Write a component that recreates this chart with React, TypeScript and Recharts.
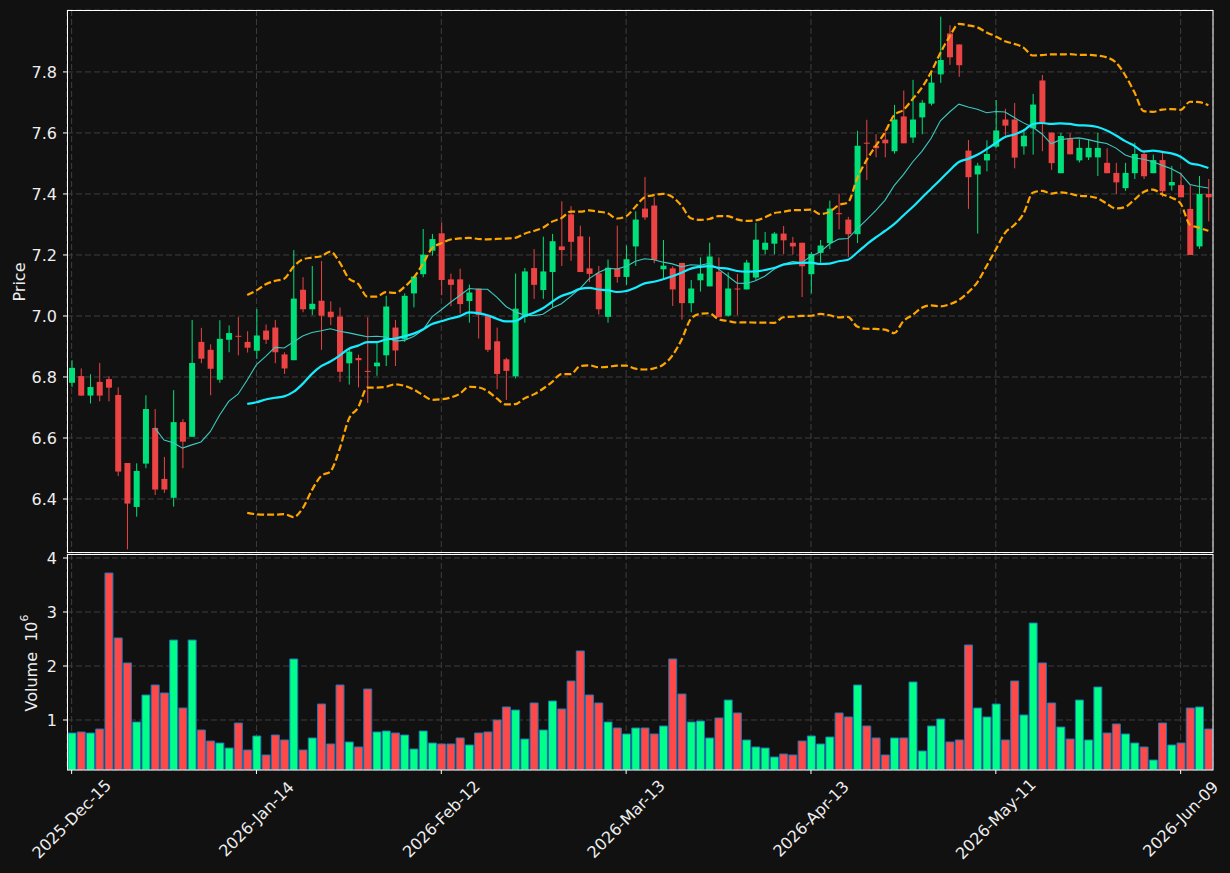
import React from 'react';
import { ComposedChart, Bar, Line, XAxis, YAxis, CartesianGrid, Cell } from 'recharts';

const dates = [
  '2025-12-15','2025-12-16','2025-12-17','2025-12-18','2025-12-19','2025-12-22','2025-12-23','2025-12-24','2025-12-26','2025-12-29','2025-12-30','2025-12-31',
  '2026-01-02','2026-01-05','2026-01-06','2026-01-07','2026-01-08','2026-01-09','2026-01-12','2026-01-13','2026-01-14','2026-01-15','2026-01-16','2026-01-20','2026-01-21','2026-01-22','2026-01-23','2026-01-26','2026-01-27','2026-01-28','2026-01-29','2026-01-30',
  '2026-02-02','2026-02-03','2026-02-04','2026-02-05','2026-02-06','2026-02-09','2026-02-10','2026-02-11','2026-02-12','2026-02-13','2026-02-17','2026-02-18','2026-02-19','2026-02-20','2026-02-23','2026-02-24','2026-02-25','2026-02-26','2026-02-27',
  '2026-03-02','2026-03-03','2026-03-04','2026-03-05','2026-03-06','2026-03-09','2026-03-10','2026-03-11','2026-03-12','2026-03-13','2026-03-16','2026-03-17','2026-03-18','2026-03-19','2026-03-20','2026-03-23','2026-03-24','2026-03-25','2026-03-26','2026-03-27','2026-03-30','2026-03-31',
  '2026-04-01','2026-04-02','2026-04-06','2026-04-07','2026-04-08','2026-04-09','2026-04-10','2026-04-13','2026-04-14','2026-04-15','2026-04-16','2026-04-17','2026-04-20','2026-04-21','2026-04-22','2026-04-23','2026-04-24','2026-04-27','2026-04-28','2026-04-29','2026-04-30',
  '2026-05-01','2026-05-04','2026-05-05','2026-05-06','2026-05-07','2026-05-08','2026-05-11','2026-05-12','2026-05-13','2026-05-14','2026-05-15','2026-05-18','2026-05-19','2026-05-20','2026-05-21','2026-05-22','2026-05-26','2026-05-27','2026-05-28','2026-05-29',
  '2026-06-01','2026-06-02','2026-06-03','2026-06-04','2026-06-05','2026-06-08','2026-06-09','2026-06-10','2026-06-11','2026-06-12',
];

const opens = [6.781,6.803,6.739,6.784,6.793,6.741,6.518,6.374,6.516,6.633,
6.466,6.404,6.652,6.604,6.915,6.889,6.791,6.922,6.935,6.915,
6.886,6.952,6.962,6.874,6.855,7.086,7.022,7.050,7.014,6.998,
6.845,6.862,6.820,6.835,6.871,6.962,6.923,7.074,7.137,7.214,
7.271,7.120,7.120,7.049,7.090,7.003,6.917,6.858,6.802,6.997,
7.157,7.085,7.144,7.228,7.333,7.261,7.156,7.140,6.997,7.156,
7.128,7.228,7.352,7.362,7.153,7.156,7.174,7.042,7.117,7.097,
7.145,7.001,7.090,7.087,7.126,7.217,7.237,7.270,7.240,7.240,
7.137,7.207,7.239,7.337,7.316,7.268,7.568,7.558,7.578,7.540,
7.654,7.585,7.651,7.696,7.792,7.926,7.890,7.542,7.464,7.510,
7.555,7.644,7.644,7.556,7.615,7.772,7.601,7.468,7.581,7.510,
7.520,7.520,7.502,7.469,7.419,7.468,7.531,7.468,7.511,7.428,
7.429,7.351,7.228,7.400];

const highs = [6.855,6.828,6.809,6.846,6.802,6.766,6.518,6.517,6.740,6.695,
6.538,6.757,6.662,6.987,6.961,6.907,6.986,6.969,6.997,6.950,
7.023,6.972,6.987,6.881,7.216,7.127,7.164,7.180,7.048,7.028,
6.892,6.873,6.996,6.914,7.066,6.987,7.074,7.129,7.285,7.269,
7.306,7.139,7.155,7.103,7.090,7.003,6.962,6.863,7.139,7.157,
7.219,7.260,7.269,7.376,7.360,7.296,7.260,7.164,7.185,7.296,
7.231,7.343,7.456,7.389,7.249,7.163,7.174,7.118,7.192,7.240,
7.192,7.143,7.138,7.184,7.305,7.275,7.275,7.295,7.259,7.240,
7.210,7.249,7.378,7.401,7.325,7.607,7.643,7.596,7.612,7.692,
7.739,7.774,7.708,7.799,7.981,7.953,7.890,7.577,7.502,7.576,
7.708,7.679,7.698,7.613,7.728,7.790,7.601,7.600,7.599,7.579,
7.579,7.600,7.550,7.502,7.502,7.568,7.544,7.529,7.540,7.492,
7.468,7.429,7.459,7.449];

const lows = [6.767,6.738,6.713,6.720,6.720,6.475,6.235,6.342,6.501,6.413,
6.420,6.375,6.501,6.604,6.845,6.740,6.781,6.881,6.871,6.880,
6.859,6.908,6.845,6.810,6.855,7.012,7.003,6.889,6.970,6.784,
6.775,6.766,6.715,6.804,6.836,6.836,6.915,7.028,7.127,7.198,
7.068,7.032,7.008,6.978,6.926,6.882,6.760,6.725,6.795,6.978,
7.056,7.056,7.028,7.164,7.181,7.144,7.111,7.005,6.978,7.109,
7.102,7.164,7.315,7.173,7.123,7.033,6.988,7.012,7.080,7.097,
6.996,6.998,7.003,7.087,7.118,7.202,7.202,7.203,7.201,7.062,
7.074,7.174,7.219,7.284,7.193,7.239,7.446,7.520,7.520,7.532,
7.566,7.567,7.596,7.690,7.764,7.823,7.784,7.351,7.270,7.474,
7.551,7.591,7.484,7.529,7.529,7.540,7.479,7.468,7.530,7.503,
7.511,7.459,7.468,7.400,7.410,7.449,7.449,7.468,7.390,7.411,
7.389,7.200,7.220,7.310];

const closes = [6.830,6.739,6.767,6.739,6.765,6.490,6.385,6.492,6.695,6.431,
6.431,6.652,6.588,6.846,6.860,6.827,6.925,6.944,6.932,6.896,
6.936,6.922,6.881,6.828,7.057,7.022,7.040,7.001,6.996,6.817,
6.883,6.855,6.818,6.847,7.031,6.887,7.066,7.129,7.201,7.252,
7.118,7.102,7.039,7.077,7.003,6.889,6.810,6.820,7.024,7.146,
7.102,7.146,7.245,7.216,7.243,7.144,7.138,7.022,7.158,7.128,
7.186,7.316,7.323,7.184,7.165,7.087,7.042,7.090,7.139,7.195,
6.996,7.090,7.088,7.175,7.250,7.240,7.270,7.248,7.228,7.163,
7.203,7.231,7.352,7.335,7.268,7.558,7.565,7.550,7.566,7.644,
7.566,7.644,7.699,7.765,7.839,7.848,7.822,7.455,7.493,7.531,
7.608,7.624,7.519,7.591,7.693,7.630,7.501,7.590,7.530,7.551,
7.551,7.551,7.468,7.438,7.469,7.531,7.458,7.511,7.409,7.439,
7.389,7.200,7.400,7.389];

// volume in millions
const volumes = [0.759,0.778,0.759,0.833,3.722,2.519,2.056,0.963,1.463,1.648,
1.500,2.481,1.222,2.481,0.815,0.611,0.574,0.481,0.944,0.444,
0.704,0.352,0.722,0.630,2.130,0.444,0.667,1.296,0.556,1.648,
0.593,0.500,1.574,0.778,0.796,0.759,0.722,0.463,0.796,0.574,
0.556,0.556,0.667,0.537,0.759,0.778,1.000,1.241,1.185,0.648,
1.315,0.815,1.352,1.204,1.722,2.278,1.463,1.315,0.963,0.852,
0.741,0.852,0.852,0.741,0.889,2.130,1.481,0.963,0.981,0.667,
1.037,1.370,1.130,0.630,0.500,0.481,0.315,0.370,0.352,0.611,
0.704,0.556,0.685,1.130,1.056,1.648,0.889,0.667,0.352,0.667,
0.667,1.704,0.426,0.889,1.019,0.593,0.630,2.389,1.222,1.056,
1.296,0.630,1.722,1.093,2.796,2.056,1.315,0.870,0.648,1.370,
0.630,1.611,0.759,0.926,0.741,0.574,0.500,0.259,0.944,0.537,
0.574,1.222,1.241,0.833];

const tickDates = ['2025-12-15','2026-01-14','2026-02-12','2026-03-13','2026-04-13','2026-05-11','2026-06-09'];
const tickLabels = ['2025-Dec-15','2026-Jan-14','2026-Feb-12','2026-Mar-13','2026-Apr-13','2026-May-11','2026-Jun-09'];
const priceTicks = [6.4, 6.6, 6.8, 7.0, 7.2, 7.4, 7.6, 7.8];
const volumeTicks = [1, 2, 3, 4];

const BG = '#111111';
const UP = '#00e07a';
const DOWN = '#ec4444';
const VOL_UP = '#00ff88';
const VOL_DOWN = '#ff4848';
const TEXT = '#eeeeee';
const GRID = '#3e3e3e';
const FONT = 'DejaVu Sans, sans-serif';
const FS = 16;

function rollingMean(arr: number[], n: number): (number | null)[] {
  return arr.map((_, i) => {
    if (i < n - 1) return null;
    let s = 0;
    for (let k = i - n + 1; k <= i; k++) s += arr[k];
    return s / n;
  });
}
function rollingStd(arr: number[], n: number): (number | null)[] {
  const m = rollingMean(arr, n);
  return arr.map((_, i) => {
    const mu = m[i];
    if (mu === null) return null;
    let s = 0;
    for (let k = i - n + 1; k <= i; k++) s += (arr[k] - mu) * (arr[k] - mu);
    return Math.sqrt(s / n);
  });
}

const ma10 = rollingMean(closes, 10);
const ma20 = rollingMean(closes, 20);
const sd20 = rollingStd(closes, 20);

const data = dates.map((d, i) => ({
  date: d,
  open: opens[i],
  high: highs[i],
  low: lows[i],
  close: closes[i],
  up: closes[i] >= opens[i],
  vol: volumes[i],
  ma10: ma10[i],
  ma20: ma20[i],
  bbUp: ma20[i] === null ? null : (ma20[i] as number) + 2 * (sd20[i] as number),
  bbLo: ma20[i] === null ? null : (ma20[i] as number) - 2 * (sd20[i] as number),
}));

const Candle = (props: any) => {
  const { x, y, width, height, payload } = props;
  if (x == null || y == null || !payload) return null;
  const { open, close, high, low } = payload;
  const color = close >= open ? UP : DOWN;
  const top = Math.min(y, y + height);
  const h = Math.abs(height);
  const span = high - low;
  const py = (v: number) => (span === 0 ? top : top + ((high - v) / span) * h);
  const bTop = py(Math.max(open, close));
  const bBot = py(Math.min(open, close));
  const cx = x + width / 2;
  return (
    <g>
      <line x1={cx} x2={cx} y1={top} y2={top + h} stroke={color} strokeWidth={1} />
      <rect x={x} y={bTop} width={width} height={Math.max(bBot - bTop, 1)} fill={color} />
    </g>
  );
};

const XTick = (props: any) => {
  const { x, payload } = props;
  const idx = tickDates.indexOf(payload.value);
  const label = idx >= 0 ? tickLabels[idx] : payload.value;
  const cy = 819;
  return (
    <text
      x={x}
      y={cy}
      textAnchor="middle"
      dominantBaseline="central"
      transform={`rotate(-45, ${x}, ${cy})`}
      fill={TEXT}
      fontSize={FS}
      fontFamily={FONT}
    >
      {label}
    </text>
  );
};

export default function App() {
  return (
    <div style={{ position: 'absolute', left: 0, top: 0, width: 1230, height: 873, background: BG, overflow: 'hidden' }}>
      <div style={{ position: 'absolute', left: 0, top: 0 }}>
        <ComposedChart width={1230} height={553} data={data} margin={{ top: 10, right: 17, bottom: 0, left: 0 }}>
          <CartesianGrid stroke={GRID} strokeDasharray="6 3" />
          <XAxis dataKey="date" type="category" hide ticks={tickDates} interval={0} />
          <YAxis
            type="number"
            domain={[6.223, 8.003]}
            allowDataOverflow
            ticks={priceTicks}
            width={67}
            axisLine={false}
            tickLine={{ stroke: '#ffffff' }}
            tickSize={4}
            tickMargin={6}
            tick={{ fill: TEXT, fontSize: FS, fontFamily: FONT }}
            tickFormatter={(v: number) => v.toFixed(1)}
          />
          <Bar dataKey={(d: any) => [d.low, d.high]} barSize={6} shape={Candle} isAnimationActive={false} />
          <Line dataKey="ma10" stroke="#3cc9c0" strokeWidth={1.1} dot={false} type="linear" isAnimationActive={false} />
          <Line dataKey="ma20" stroke="#16ecff" strokeWidth={2.2} dot={false} type="monotone" isAnimationActive={false} />
          <Line dataKey="bbUp" stroke="#ffa500" strokeWidth={2.2} strokeDasharray="7 3" dot={false} type="monotone" isAnimationActive={false} />
          <Line dataKey="bbLo" stroke="#ffa500" strokeWidth={2.2} strokeDasharray="7 3" dot={false} type="monotone" isAnimationActive={false} />
        </ComposedChart>
      </div>
      <div style={{ position: 'absolute', left: 0, top: 0 }}>
        <ComposedChart width={1230} height={873} data={data} margin={{ top: 554, right: 17, bottom: 0, left: 0 }}>
          <CartesianGrid stroke={GRID} strokeDasharray="6 3" />
          <XAxis
            dataKey="date"
            type="category"
            ticks={tickDates}
            interval={0}
            height={103}
            axisLine={false}
            tickLine={{ stroke: '#ffffff' }}
            tickSize={4}
            tick={<XTick />}
          />
          <YAxis
            type="number"
            domain={[0.074, 4.074]}
            allowDataOverflow
            ticks={volumeTicks}
            width={67}
            axisLine={false}
            tickLine={{ stroke: '#ffffff' }}
            tickSize={4}
            tickMargin={6}
            tick={{ fill: TEXT, fontSize: FS, fontFamily: FONT }}
          />
          <Bar dataKey="vol" barSize={8} stroke="#1f77b4" strokeWidth={1} isAnimationActive={false}>
            {data.map((d, i) => (
              <Cell key={i} fill={d.up ? VOL_UP : VOL_DOWN} />
            ))}
          </Bar>
        </ComposedChart>
      </div>
      <svg width={1230} height={873} style={{ position: 'absolute', left: 0, top: 0, pointerEvents: 'none' }}>
        <rect x={67.5} y={10.5} width={1145.5} height={542} fill="none" stroke="#ffffff" strokeWidth={1} />
        <rect x={67.5} y={554.5} width={1145.5} height={215.5} fill="none" stroke="#ffffff" strokeWidth={1} />
        <text x={19} y={282} textAnchor="middle" dominantBaseline="central" transform="rotate(-90, 19, 282)" fill={TEXT} fontSize={FS} fontFamily={FONT}>
          Price
        </text>
        <text x={31} y={663} textAnchor="middle" dominantBaseline="central" transform="rotate(-90, 31, 663)" fill={TEXT} fontSize={FS} fontFamily={FONT}>
          Volume{'\u00a0\u00a0'}10<tspan dy={-7} fontSize={11}>6</tspan>
        </text>
      </svg>
    </div>
  );
}
